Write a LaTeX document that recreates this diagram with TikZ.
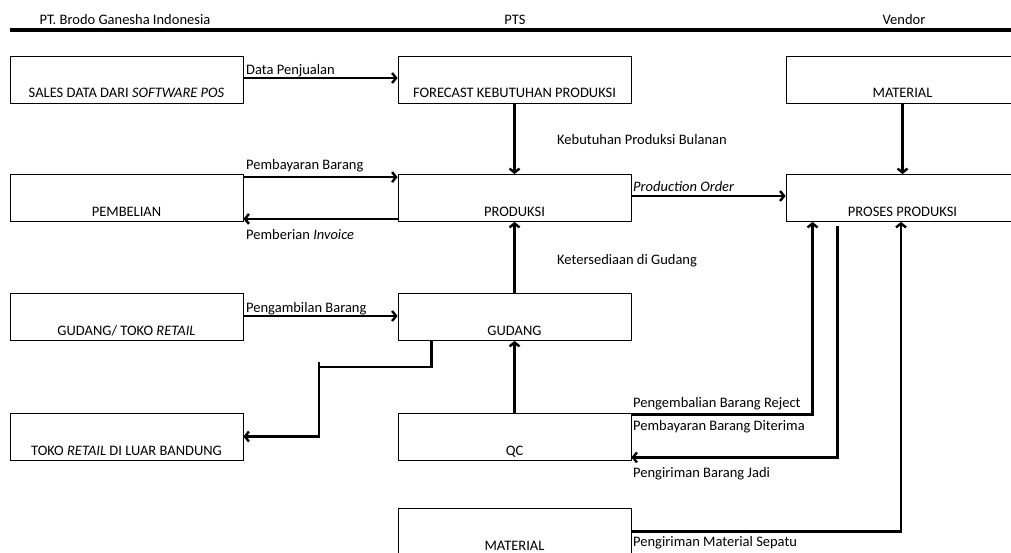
\documentclass[tikz,border=0pt]{standalone}
\usepackage{fontspec}
\setmainfont{Carlito}
\usetikzlibrary{arrows.meta}

\tikzset{
  kotak/.style={draw, line width=0.8pt, minimum width=233pt, inner xsep=0pt, inner ysep=0pt, text height=42pt, text depth=5pt},
  alir/.style={line width=2.4pt, -{Straight Barb[length=4pt,width=10pt]}},
  garis/.style={line width=2.4pt},
  ket/.style={anchor=base west, inner sep=0pt},
}

\begin{document}
\begin{tikzpicture}[x=1pt,y=-1pt,font=\fontsize{14.5}{17}\selectfont]
\useasboundingbox (0,0) rectangle (1011,553);
\clip (0,0) rectangle (1011,553);

% kepala kolom
\node[anchor=base] (hdrbrodo) at (125,25) {PT. Brodo Ganesha Indonesia};
\node[anchor=base] (hdrpts) at (515,25) {PTS};
\node[anchor=base] (hdrvendor) at (904,25) {Vendor};
\coordinate (hdrkiri) at (10,30);
\coordinate (hdrkanan) at (1015,30);
\draw[line width=3.5pt] (hdrkiri) -- (hdrkanan);

% kotak
\node[kotak] (sales) at (126.5,79.5) {SALES DATA DARI \textit{SOFTWARE POS}};
\node[kotak] (forecast) at (514.5,79.5) {FORECAST KEBUTUHAN PRODUKSI};
\node[kotak] (materialvendor) at (902.5,79.5) {MATERIAL};
\node[kotak] (pembelian) at (126.5,198) {PEMBELIAN};
\node[kotak] (produksi) at (514.5,198) {PRODUKSI};
\node[kotak] (proses) at (902.5,198) {PROSES PRODUKSI};
\node[kotak] (gudangretail) at (126.5,317) {GUDANG/ TOKO \textit{RETAIL}};
\node[kotak] (gudang) at (514.5,317) {GUDANG};
\node[kotak] (tokoluar) at (126.5,436.5) {TOKO \textit{RETAIL} DI LUAR BANDUNG};
\node[kotak] (qc) at (514.5,436.5) {QC};
\node[kotak] (materialpts) at (514.5,531.5) {MATERIAL};

% aliran
\draw[alir] ([yshift=1.5pt]sales.east) -- ([yshift=1.5pt]forecast.west);
\draw[alir] (forecast.south) -- (produksi.north);
\draw[alir] (materialvendor.south) -- (proses.north);
\draw[alir] ([yshift=-3pt]pembelian.north east) -- ([yshift=-3pt]produksi.north west);
\draw[alir] ([yshift=3pt]produksi.south west) -- ([yshift=3pt]pembelian.south east);
\draw[alir] ([yshift=2pt]produksi.east) -- ([yshift=2pt]proses.west);
\draw[alir] (gudang.north) -- (produksi.south);
\draw[alir] ([yshift=1pt]gudangretail.east) -- ([yshift=1pt]gudang.west);
\draw[alir] (qc.north) -- (gudang.south);

\coordinate (belok) at (319,367);
\draw[garis] ([xshift=-83pt]gudang.south) |- (belok);
\draw[alir] ([yshift=5pt]belok) |- (tokoluar.east);

\draw[alir] ([yshift=-2pt]qc.north east) -| ([xshift=-90pt]proses.south);
\draw[alir] ([xshift=-65pt,yshift=-4pt]proses.south) |- ([yshift=3pt]qc.south east);
\draw[alir] (materialpts.east) -| ([xshift=-1.5pt]proses.south);

% keterangan
\node[ket] (kdata) at (246,75) {Data Penjualan};
\node[ket] (kbulanan) at (557,145) {Kebutuhan Produksi Bulanan};
\node[ket] (kbayar) at (246,170) {Pembayaran Barang};
\node[ket] (kinvoice) at (246,240) {Pemberian \textit{Invoice}};
\node[ket] (korder) at (633,192) {\textit{Production Order}};
\node[ket] (ksedia) at (557,264) {Ketersediaan di Gudang};
\node[ket] (kambil) at (246,312) {Pengambilan Barang};
\node[ket] (kreject) at (633,407) {Pengembalian Barang Reject};
\node[ket] (kterima) at (633,430) {Pembayaran Barang Diterima};
\node[ket] (kjadi) at (633,477) {Pengiriman Barang Jadi};
\node[ket] (ksepatu) at (633,546) {Pengiriman Material Sepatu};
\end{tikzpicture}
\end{document}
